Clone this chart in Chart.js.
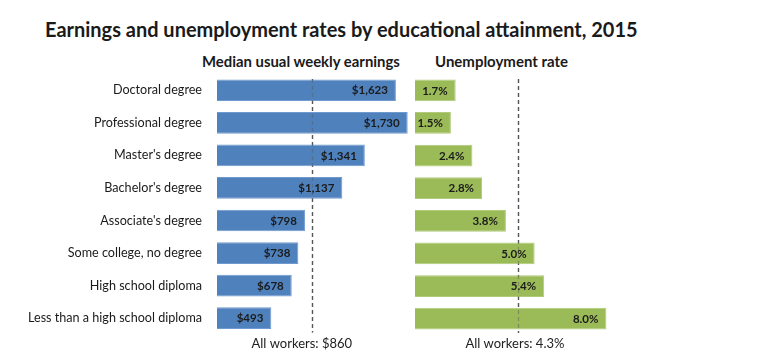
<!DOCTYPE html>
<html><head><meta charset="utf-8">
<script src="https://cdn.jsdelivr.net/npm/chart.js@4"></script>
<style>
html,body{margin:0;padding:0;background:#fff;}
#wrap{position:relative;width:783px;height:357px;overflow:hidden;font-family:Lato,"Noto Sans",sans-serif;background:#fff;}
.t{position:absolute;white-space:nowrap;color:#1a1a1a;line-height:1;}
canvas{position:absolute;top:0;}
</style></head><body>
<div id="wrap">
<div class="t" id="title" style="left:45px;top:19px;font-size:19px;font-weight:bold;">Earnings and unemployment rates by educational attainment, 2015</div>
<div class="t" id="sub1" style="left:202px;top:54px;font-size:14px;font-weight:bold;">Median usual weekly earnings</div>
<div class="t" id="sub2" style="left:435px;top:54px;font-size:14px;font-weight:bold;">Unemployment rate</div>
<canvas id="c1" width="411" height="357" style="left:0px"></canvas>
<canvas id="c2" width="201" height="357" style="left:415px"></canvas>
</div>
<script>
const categories = ["Doctoral degree","Professional degree","Master's degree","Bachelor's degree","Associate's degree","Some college, no degree","High school diploma","Less than a high school diploma"];
const earnings = [1623,1730,1341,1137,798,738,678,493];
const unemployment = [1.7,1.5,2.4,2.8,3.8,5.0,5.4,8.0];
const allWorkersEarnings = 860;
const allWorkersRate = 4.3;
const earningsMax = 1760;
const rateMax = 8.4;

function fit(id, target){
  const el=document.getElementById(id);
  const w=el.getBoundingClientRect().width;
  const fs=parseFloat(el.style.fontSize);
  el.style.fontSize=(fs*target/w).toFixed(2)+'px';
}
fit('title',593); fit('sub1',198); fit('sub2',133);

const FONT = 'Lato';
const fmtMoney = v => '$' + v.toLocaleString('en-US');
const fmtRate = v => v.toFixed(1) + '%';

function dashLine(chart, value, color){
  const ctx=chart.ctx, xs=chart.scales.x, area=chart.chartArea;
  const x=Math.round(xs.getPixelForValue(value))+0.5;
  ctx.save();
  ctx.strokeStyle=color;ctx.lineWidth=1.3;ctx.setLineDash([4,3]);
  ctx.beginPath();ctx.moveTo(x,area.top+5);ctx.lineTo(x,area.bottom-2);ctx.stroke();
  ctx.restore();
}

function makePlugin(refValue, refLabel, fmt, labelShift){
  return {
    id:'custom',
    beforeDatasetsDraw(chart){ dashLine(chart, refValue, '#555'); },
    afterDatasetsDraw(chart){
      dashLine(chart, refValue, 'rgba(90,90,90,0.45)');
      const ctx=chart.ctx;
      const meta=chart.getDatasetMeta(0);
      ctx.save();
      ctx.font='bold 11.5px '+FONT;
      ctx.fillStyle='#1b1b1b';
      ctx.textAlign='right';ctx.textBaseline='middle';
      meta.data.forEach((bar,i)=>{
        const v=chart.data.datasets[0].data[i];
        ctx.fillText(fmt(v), bar.x-8, bar.y+0.5);
      });
      ctx.restore();
    },
    afterDraw(chart){
      const ctx=chart.ctx, xs=chart.scales.x, area=chart.chartArea;
      const x=xs.getPixelForValue(refValue);
      ctx.save();
      ctx.font='13px '+FONT;ctx.fillStyle='#222';
      ctx.textAlign='center';ctx.textBaseline='middle';
      ctx.fillText(refLabel, x+labelShift, area.bottom+9);
      ctx.restore();
    }
  };
}

const common = {
  responsive:false, animation:false, indexAxis:'y',
  plugins:{legend:{display:false},tooltip:{enabled:false}},
};

new Chart(document.getElementById('c1'),{
  type:'bar',
  data:{labels:categories,datasets:[{data:earnings,backgroundColor:'#4f81bd',borderColor:'#6f9ad0',borderWidth:1,categoryPercentage:1,barPercentage:0.665}]},
  options:{...common,
    layout:{padding:{top:74,bottom:22,left:0,right:0}},
    scales:{
      x:{display:false,min:0,max:earningsMax},
      y:{grid:{display:false,drawTicks:false},border:{display:false},
         ticks:{padding:15,color:'#1a1a1a',font:{family:FONT,size:12.6}},
         afterFit(s){s.width=217;}}
    }
  },
  plugins:[makePlugin(allWorkersEarnings,'All workers: $'+allWorkersEarnings,fmtMoney,-10)]
});

new Chart(document.getElementById('c2'),{
  type:'bar',
  data:{labels:categories,datasets:[{data:unemployment,backgroundColor:'#9bbb59',borderColor:'#b0cb7a',borderWidth:1,categoryPercentage:1,barPercentage:0.665}]},
  options:{...common,
    layout:{padding:{top:74,bottom:22,left:0,right:0}},
    scales:{
      x:{display:false,min:0,max:rateMax},
      y:{display:false}
    }
  },
  plugins:[makePlugin(allWorkersRate,'All workers: '+allWorkersRate+'%',fmtRate,-3)]
});
</script>
</body></html>
